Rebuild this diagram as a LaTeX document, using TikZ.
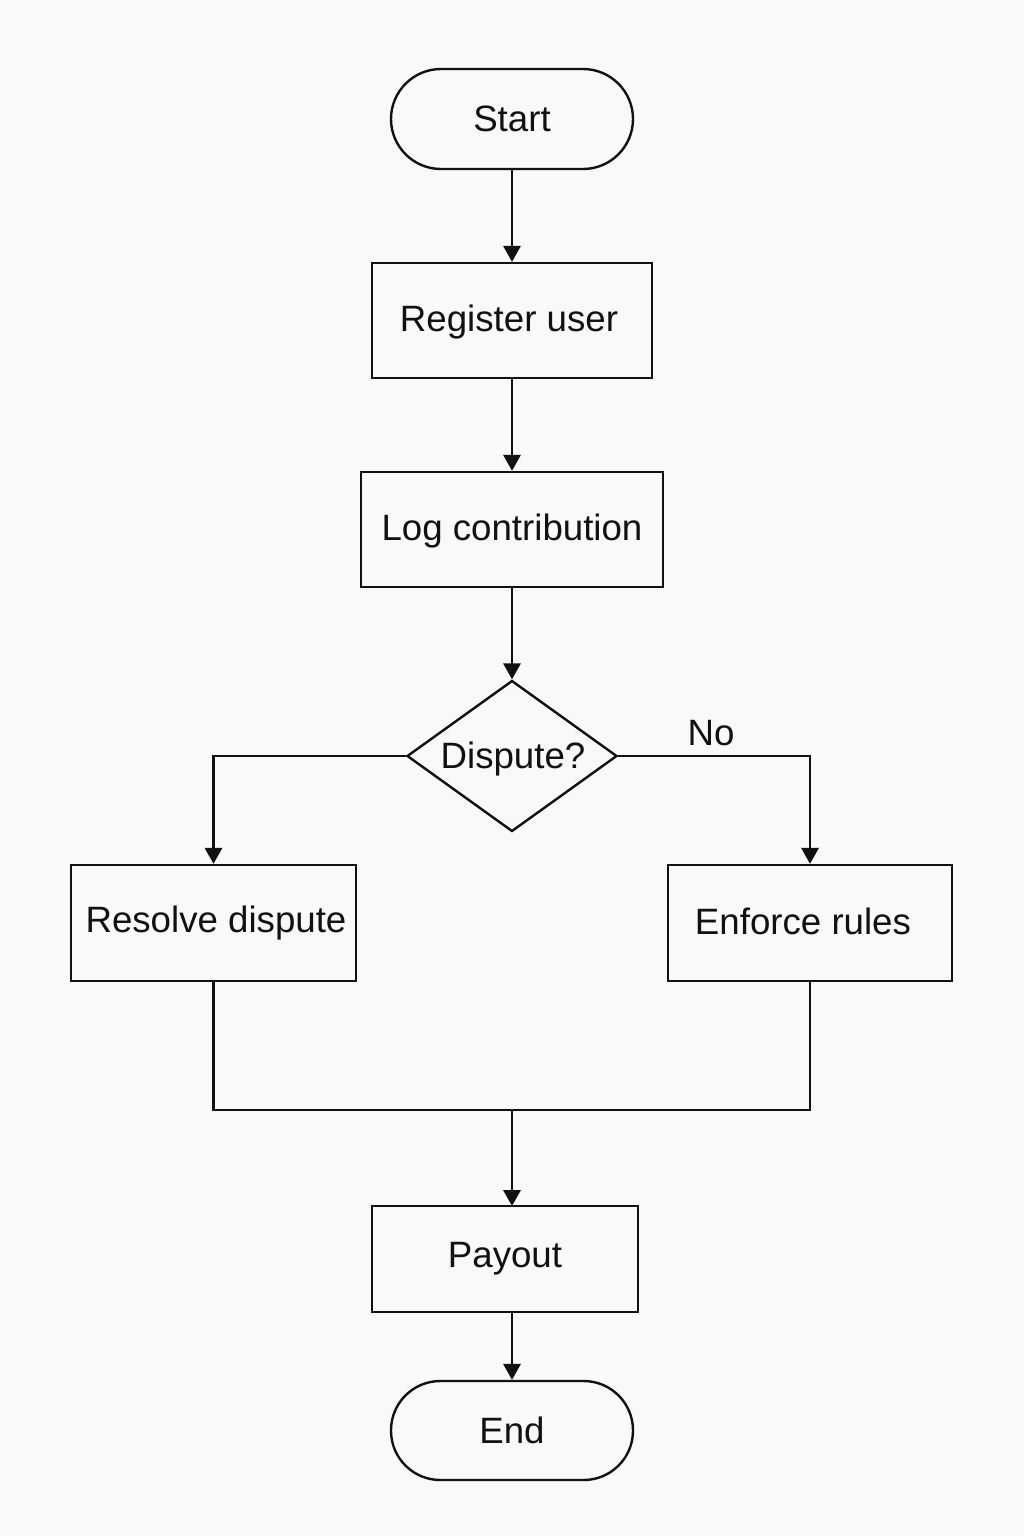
\documentclass[tikz,border=0pt]{standalone}
\usepackage{fontspec}
\setmainfont{Liberation Sans}
\usetikzlibrary{shapes.geometric,arrows.meta}
\definecolor{bg}{HTML}{F9F9F9}
\definecolor{ink}{HTML}{111111}
\begin{document}
\begin{tikzpicture}[x=0.75pt,y=-0.75pt,
  every node/.style={font=\fontsize{27.5}{32}\selectfont, text=ink},
  boxnode/.style={draw=ink, line width=1.8pt, fill=bg, rectangle, inner sep=0pt},
  termnode/.style={draw=ink, line width=1.8pt, fill=bg, rectangle, rounded corners=37.5pt, minimum width=181.5pt, minimum height=75pt, inner sep=0pt},
  decnode/.style={draw=ink, line width=1.8pt, fill=bg, diamond, aspect=1.39, minimum width=157.5pt, minimum height=113.25pt, inner sep=0pt},
  conn/.style={draw=ink, line width=1.8pt, line join=miter},
  arr/.style={conn, -{Triangle[length=12pt,width=13pt]}}
]
\fill[bg] (0,0) rectangle (1024,1536);
\useasboundingbox (0,0) rectangle (1024,1536);

\node[termnode] (start) at (512,119) {Start};
\node[boxnode, minimum width=210pt, minimum height=86.25pt] (reg) at (512,320.5) {};
\node (regtext) at (509,322) {Register user};
\node[boxnode, minimum width=226.5pt, minimum height=86.25pt] (log) at (512,529.5) {};
\node (logtext) at (512,531) {Log contribution};
\node[decnode] (disp) at (512,756) {};
\node (disptext) at (513,759) {Dispute?};
\node[boxnode, minimum width=213.75pt, minimum height=87pt] (res) at (213.5,923) {};
\node (restext) at (216,923) {Resolve dispute};
\node[boxnode, minimum width=213pt, minimum height=87pt] (enf) at (810,923) {};
\node (enftext) at (803,921) {Enforce rules};
\node[boxnode, minimum width=199.5pt, minimum height=79.5pt] (pay) at (505,1259) {};
\node (paytext) at (505,1259) {Payout};
\node[termnode, minimum height=74.25pt, rounded corners=37pt] (end) at (512,1430.5) {End};
\node (no) at (711,733) {No};

\coordinate (merge) at (512,1110);
\coordinate (payin) at (512,1206);
\coordinate (payout) at (512,1312);

\draw[arr] (start) -- (reg);
\draw[arr] (reg) -- (log);
\draw[arr] (log) -- (disp.north);
\draw[arr] (disp.west) -| (res.north);
\draw[arr] (disp.east) -| (enf.north);
\draw[conn] (res.south) |- (merge) -| (enf.south);
\draw[arr] (merge) -- (payin);
\draw[arr] (payout) -- (end.north);
\end{tikzpicture}
\end{document}
